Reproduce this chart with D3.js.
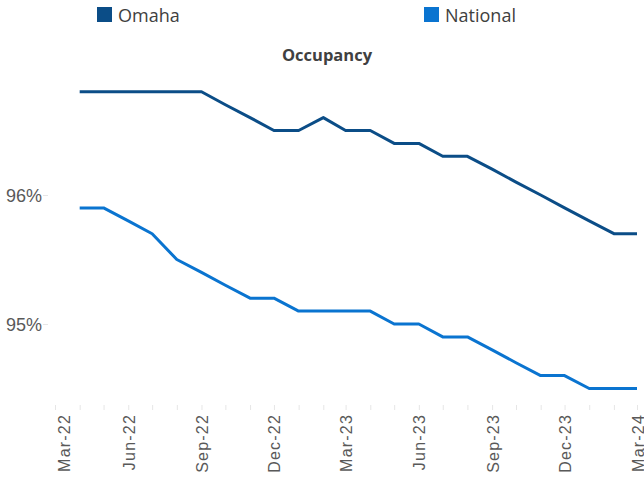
<!DOCTYPE html>
<html>
<head>
<meta charset="utf-8">
<script src="https://cdn.jsdelivr.net/npm/d3@7"></script>
<style>
  body { margin: 0; background: #fff; }
  svg { font-family: "Open Sans", sans-serif; }
</style>
</head>
<body>
<svg id="chart" width="644" height="478"></svg>
<script>
var months = ["2022-04","2022-05","2022-06","2022-07","2022-08","2022-09","2022-10","2022-11","2022-12",
  "2023-01","2023-02","2023-03","2023-04","2023-05","2023-06","2023-07","2023-08","2023-09","2023-10",
  "2023-11","2023-12","2024-01","2024-02","2024-03"];
var omaha = [96.8,96.8,96.8,96.8,96.8,96.8,96.7,96.6,96.5,96.5,96.6,96.5,96.5,96.4,96.4,96.3,96.3,
  96.2,96.1,96.0,95.9,95.8,95.7,95.7];
var national = [95.9,95.9,95.8,95.7,95.5,95.4,95.3,95.2,95.2,95.1,95.1,95.1,95.1,95.0,95.0,94.9,94.9,
  94.8,94.7,94.6,94.6,94.5,94.5,94.5];
var yTicks = [95, 96];
var seriesNames = ["Omaha", "National"];
var colors = ["#0B4D87", "#0A74D0"];

var parse = d3.timeParse("%Y-%m");
var svg = d3.select("#chart");

var x = d3.scaleTime()
  .domain([parse("2022-03"), parse("2024-03")])
  .range([55, 637]);

var y = d3.scaleLinear()
  .domain([95, 96])
  .range([324, 195]);

// y axis labels
var yAxis = d3.axisLeft(y)
  .tickValues(yTicks)
  .tickSize(5)
  .tickPadding(1)
  .tickFormat(d => d + "%");

svg.append("g")
  .attr("transform", "translate(48,0)")
  .call(yAxis)
  .call(g => g.select(".domain").remove())
  .call(g => g.selectAll("line").attr("stroke", "#e6e6e6"))
  .call(g => g.selectAll("text")
    .attr("fill", "#595959")
    .style("font-size", "18px")
    .attr("dy", "0.35em"));

// x axis: monthly ticks, labels every quarter
var xAxis = d3.axisBottom(x)
  .ticks(d3.timeMonth.every(1))
  .tickSize(5)
  .tickFormat(d => d.getMonth() % 3 === 2 ? d3.timeFormat("%b-%y")(d) : "");

var xg = svg.append("g")
  .attr("transform", "translate(0,405)")
  .call(xAxis);
xg.select(".domain").remove();
xg.selectAll("line").attr("stroke", "#e6e6e6");
xg.selectAll("text")
  .attr("fill", "#595959")
  .style("font-size", "16px")
  .style("letter-spacing", "1.2px")
  .attr("text-anchor", "end")
  .attr("y", 0)
  .attr("dy", 0)
  // first label is nudged right so it is not clipped, as in the original
  .attr("transform", (d, i) => "translate(" + (i === 0 ? 14 : 6) + ",9) rotate(-90)");

// lines
var line = d3.line()
  .x((d, i) => x(parse(months[i])))
  .y(d => y(d));

[omaha, national].forEach((vals, k) => {
  svg.append("path")
    .datum(vals)
    .attr("fill", "none")
    .attr("stroke", colors[k])
    .attr("stroke-width", 3)
    .attr("stroke-linejoin", "round")
    .attr("d", line);
});

// title
svg.append("text")
  .attr("x", 327)
  .attr("y", 61)
  .attr("text-anchor", "middle")
  .attr("fill", "#404040")
  .style("font-size", "16.5px")
  .style("font-weight", "bold")
  .text("Occupancy");

// legend
var legendX = [97, 424];
seriesNames.forEach((name, k) => {
  svg.append("rect")
    .attr("x", legendX[k])
    .attr("y", 7)
    .attr("width", 15)
    .attr("height", 15)
    .attr("fill", colors[k]);
  svg.append("text")
    .attr("x", legendX[k] + 21)
    .attr("y", 22)
    .attr("fill", "#404040")
    .style("font-size", "18px")
    .text(name);
});
</script>
</body>
</html>
